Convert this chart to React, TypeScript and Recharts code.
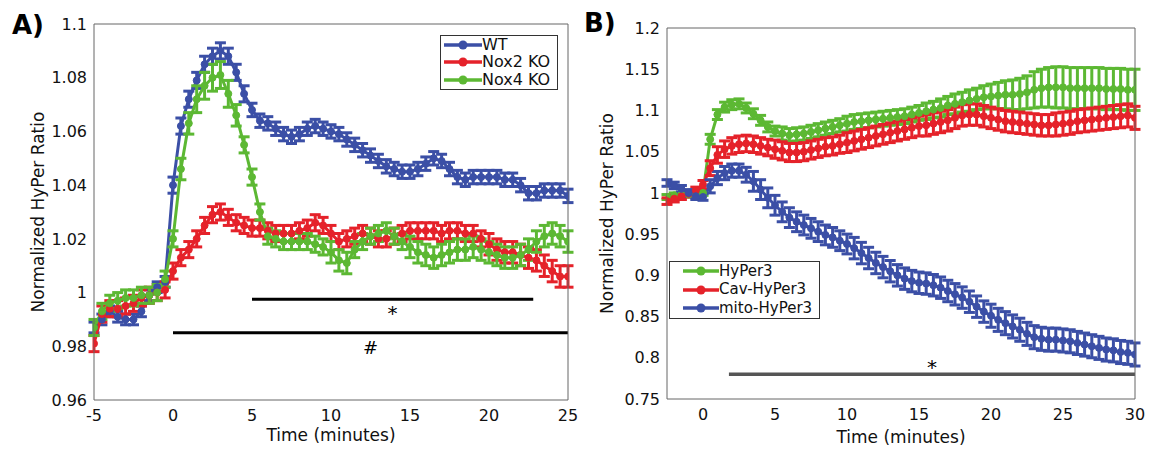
import React from 'react';
import {
  LineChart,
  Line,
  XAxis,
  YAxis,
  ErrorBar,
  ReferenceLine,
  Legend,
  Label,
} from 'recharts';

const FONT = '"DejaVu Sans", Verdana, sans-serif';
const AXIS = '#666666';
const BLUE = '#3b4fa6';
const RED = '#e5222a';
const GREEN = '#5cb833';

// ---- panel A: -5 .. 25 min, every 0.5 min ----
const timeA = [
  -5, -4.5, -4, -3.5, -3, -2.5, -2, -1.5, -1, -0.5,
  0, 0.5, 1, 1.5, 2, 2.5, 3, 3.5, 4, 4.5,
  5, 5.5, 6, 6.5, 7, 7.5, 8, 8.5, 9, 9.5,
  10, 10.5, 11, 11.5, 12, 12.5, 13, 13.5, 14, 14.5,
  15, 15.5, 16, 16.5, 17, 17.5, 18, 18.5, 19, 19.5,
  20, 20.5, 21, 21.5, 22, 22.5, 23, 23.5, 24, 24.5,
  25,
];
const wtA = [
  0.987, 0.990, 0.993, 0.991, 0.990, 0.990, 0.993, 0.999, 1.002, 1.004,
  1.040, 1.062, 1.072, 1.079, 1.085, 1.088, 1.090, 1.088, 1.082, 1.074,
  1.068, 1.064, 1.063, 1.061, 1.059, 1.058, 1.059, 1.061, 1.062, 1.061,
  1.060, 1.059, 1.057, 1.055, 1.053, 1.051, 1.049, 1.047, 1.046, 1.045,
  1.045, 1.046, 1.048, 1.050, 1.049, 1.046, 1.043, 1.042, 1.043, 1.043,
  1.043, 1.043, 1.042, 1.042, 1.040, 1.037, 1.037, 1.038, 1.038, 1.038,
  1.036,
];
const wtErrA = [
  0.002, 0.002, 0.002, 0.002, 0.002, 0.002, 0.002, 0.002, 0.002, 0.002,
  0.003, 0.003, 0.003, 0.003, 0.003, 0.003, 0.003, 0.003, 0.003, 0.003,
  0.0025, 0.0025, 0.0025, 0.0025, 0.0025, 0.0025, 0.0025, 0.0025, 0.0025, 0.0025,
  0.0025, 0.0025, 0.0025, 0.0025, 0.0025, 0.0025, 0.0025, 0.0025, 0.0025, 0.0025,
  0.0025, 0.0025, 0.0025, 0.0025, 0.0025, 0.0025, 0.0025, 0.0025, 0.0025, 0.0025,
  0.0025, 0.0025, 0.0025, 0.0025, 0.0025, 0.0025, 0.0025, 0.0025, 0.0025, 0.0025,
  0.0025,
];
const nox2A = [
  0.981, 0.992, 0.994, 0.994, 0.995, 0.996, 0.998, 0.999, 1.000, 1.001,
  1.008, 1.013, 1.016, 1.020, 1.025, 1.029, 1.030, 1.028, 1.026, 1.025,
  1.024, 1.024, 1.023, 1.022, 1.022, 1.022, 1.023, 1.024, 1.026, 1.025,
  1.022, 1.019, 1.020, 1.021, 1.022, 1.021, 1.020, 1.020, 1.021, 1.022,
  1.023, 1.023, 1.023, 1.023, 1.022, 1.023, 1.023, 1.022, 1.022, 1.020,
  1.018, 1.016, 1.015, 1.015, 1.014, 1.013, 1.012, 1.010, 1.008, 1.006,
  1.006,
];
const nox2ErrA = [
  0.003, 0.003, 0.003, 0.003, 0.003, 0.003, 0.003, 0.003, 0.003, 0.003,
  0.003, 0.003, 0.003, 0.003, 0.003, 0.003, 0.003, 0.003, 0.003, 0.003,
  0.003, 0.003, 0.003, 0.003, 0.003, 0.003, 0.003, 0.003, 0.003, 0.003,
  0.003, 0.003, 0.003, 0.003, 0.003, 0.003, 0.003, 0.003, 0.003, 0.003,
  0.003, 0.003, 0.003, 0.003, 0.003, 0.003, 0.003, 0.003, 0.003, 0.003,
  0.004, 0.004, 0.004, 0.004, 0.004, 0.004, 0.004, 0.004, 0.004, 0.004,
  0.004,
];
const nox4A = [
  0.987, 0.993, 0.996, 0.997, 0.998, 0.998, 0.999, 0.999, 1.000, 1.005,
  1.020, 1.046, 1.063, 1.072, 1.077, 1.080, 1.081, 1.074, 1.066, 1.055,
  1.043, 1.030, 1.021, 1.020, 1.019, 1.019, 1.019, 1.019, 1.018, 1.017,
  1.015, 1.012, 1.011, 1.016, 1.019, 1.021, 1.022, 1.023, 1.021, 1.019,
  1.017, 1.015, 1.014, 1.013, 1.014, 1.015, 1.016, 1.016, 1.017, 1.016,
  1.015, 1.014, 1.013, 1.013, 1.014, 1.016, 1.019, 1.021, 1.022, 1.021,
  1.019,
];
const nox4ErrA = [
  0.003, 0.003, 0.003, 0.003, 0.003, 0.003, 0.003, 0.003, 0.003, 0.003,
  0.003, 0.004, 0.004, 0.005, 0.005, 0.005, 0.005, 0.005, 0.004, 0.003,
  0.003, 0.003, 0.003, 0.003, 0.003, 0.003, 0.003, 0.003, 0.003, 0.003,
  0.004, 0.004, 0.004, 0.003, 0.003, 0.003, 0.003, 0.003, 0.003, 0.003,
  0.004, 0.004, 0.004, 0.004, 0.004, 0.004, 0.004, 0.004, 0.004, 0.004,
  0.004, 0.004, 0.004, 0.004, 0.004, 0.004, 0.004, 0.004, 0.004, 0.004,
  0.004,
];

// ---- panel B: -2.5 .. 30 min, every 0.5 min ----
const timeB = [
  -2.5, -2, -1.5, -1, -0.5, 0,
  0.5, 1, 1.5, 2, 2.5, 3, 3.5, 4, 4.5, 5,
  5.5, 6, 6.5, 7, 7.5, 8, 8.5, 9, 9.5, 10,
  10.5, 11, 11.5, 12, 12.5, 13, 13.5, 14, 14.5, 15,
  15.5, 16, 16.5, 17, 17.5, 18, 18.5, 19, 19.5, 20,
  20.5, 21, 21.5, 22, 22.5, 23, 23.5, 24, 24.5, 25,
  25.5, 26, 26.5, 27, 27.5, 28, 28.5, 29, 29.5, 30,
];
const hyperB = [
  0.995, 0.997, 0.998, 0.998, 0.997, 1.000,
  1.065, 1.095, 1.104, 1.107, 1.108, 1.103, 1.096, 1.088, 1.080, 1.075,
  1.072, 1.070, 1.071, 1.072, 1.074, 1.076, 1.078, 1.080, 1.082, 1.084,
  1.086, 1.087, 1.088, 1.089, 1.090, 1.091, 1.092, 1.093, 1.095, 1.097,
  1.099, 1.101, 1.103, 1.106, 1.108, 1.110, 1.112, 1.114, 1.116, 1.117,
  1.118, 1.119, 1.119, 1.120, 1.122, 1.125, 1.127, 1.128, 1.128, 1.128,
  1.127, 1.127, 1.127, 1.127, 1.127, 1.126, 1.126, 1.126, 1.125, 1.125,
];
const hyperErrB = [
  0.003, 0.003, 0.003, 0.003, 0.003, 0.003,
  0.006, 0.006, 0.006, 0.006, 0.006, 0.006, 0.006, 0.006, 0.006, 0.006,
  0.008, 0.008, 0.008, 0.008, 0.008, 0.008, 0.008, 0.008, 0.008, 0.009,
  0.009, 0.009, 0.009, 0.009, 0.009, 0.009, 0.009, 0.009, 0.009, 0.009,
  0.010, 0.010, 0.011, 0.011, 0.012, 0.012, 0.013, 0.013, 0.014, 0.015,
  0.016, 0.017, 0.018, 0.019, 0.020, 0.022, 0.023, 0.024, 0.025, 0.025,
  0.025, 0.025, 0.025, 0.025, 0.025, 0.025, 0.025, 0.025, 0.025, 0.025,
];
const cavB = [
  0.990, 0.993, 0.996, 0.999, 1.003, 1.010,
  1.030, 1.046, 1.053, 1.057, 1.059, 1.060, 1.059, 1.057, 1.055, 1.053,
  1.051, 1.049, 1.049, 1.050, 1.052, 1.054, 1.056, 1.057, 1.059, 1.061,
  1.063, 1.065, 1.067, 1.069, 1.071, 1.073, 1.075, 1.077, 1.079, 1.081,
  1.082, 1.084, 1.086, 1.088, 1.091, 1.094, 1.095, 1.095, 1.093, 1.091,
  1.089, 1.087, 1.086, 1.085, 1.084, 1.083, 1.082, 1.082, 1.083, 1.084,
  1.085, 1.087, 1.088, 1.089, 1.090, 1.091, 1.092, 1.093, 1.094, 1.091,
];
const cavErrB = [
  0.004, 0.004, 0.004, 0.004, 0.004, 0.005,
  0.009, 0.010, 0.010, 0.010, 0.010, 0.010, 0.010, 0.010, 0.010, 0.011,
  0.011, 0.011, 0.011, 0.011, 0.011, 0.011, 0.011, 0.011, 0.011, 0.012,
  0.012, 0.012, 0.012, 0.012, 0.012, 0.012, 0.012, 0.012, 0.012, 0.012,
  0.013, 0.013, 0.013, 0.013, 0.013, 0.013, 0.013, 0.013, 0.013, 0.013,
  0.013, 0.013, 0.013, 0.013, 0.013, 0.013, 0.013, 0.013, 0.014, 0.014,
  0.014, 0.014, 0.014, 0.014, 0.014, 0.014, 0.014, 0.014, 0.014, 0.014,
];
const mitoB = [
  1.012, 1.009, 1.005, 1.000, 0.996, 0.995,
  1.008, 1.018, 1.024, 1.027, 1.027, 1.022, 1.014, 1.004, 0.994, 0.985,
  0.977, 0.970, 0.965, 0.961, 0.957, 0.953, 0.949, 0.946, 0.942, 0.938,
  0.933, 0.927, 0.921, 0.915, 0.910, 0.905, 0.900, 0.896, 0.893, 0.891,
  0.890, 0.888, 0.885, 0.881, 0.877, 0.873, 0.868, 0.862, 0.856, 0.851,
  0.846, 0.842, 0.838, 0.834, 0.829, 0.825, 0.823, 0.822, 0.822, 0.821,
  0.820, 0.818, 0.816, 0.814, 0.812, 0.810, 0.809, 0.807, 0.806, 0.804,
];
const mitoErrB = [
  0.004, 0.004, 0.004, 0.004, 0.004, 0.004,
  0.008, 0.008, 0.008, 0.008, 0.008, 0.009, 0.012, 0.012, 0.012, 0.012,
  0.012, 0.012, 0.012, 0.012, 0.012, 0.012, 0.012, 0.012, 0.012, 0.012,
  0.013, 0.013, 0.013, 0.013, 0.013, 0.013, 0.013, 0.013, 0.013, 0.013,
  0.013, 0.013, 0.013, 0.013, 0.013, 0.013, 0.013, 0.013, 0.013, 0.014,
  0.014, 0.014, 0.014, 0.014, 0.014, 0.014, 0.014, 0.014, 0.014, 0.014,
  0.014, 0.014, 0.014, 0.014, 0.014, 0.014, 0.014, 0.014, 0.014, 0.014,
];

const xTicksA = [-5, 0, 5, 10, 15, 20, 25];
const yTicksA = [0.96, 0.98, 1, 1.02, 1.04, 1.06, 1.08, 1.1];
const xTicksB = [0, 5, 10, 15, 20, 25, 30];
const yTicksB = [0.75, 0.8, 0.85, 0.9, 0.95, 1, 1.05, 1.1, 1.15, 1.2];

const namesA = ['WT', 'Nox2 KO', 'Nox4 KO'];
const namesB = ['HyPer3', 'Cav-HyPer3', 'mito-HyPer3'];

const dataA = timeA.map((t, i) => ({
  t,
  wt: wtA[i],
  wtErr: wtErrA[i],
  nox2: nox2A[i],
  nox2Err: nox2ErrA[i],
  nox4: nox4A[i],
  nox4Err: nox4ErrA[i],
}));

const dataB = timeB.map((t, i) => ({
  t,
  hyper: hyperB[i],
  hyperErr: hyperErrB[i],
  cav: cavB[i],
  cavErr: cavErrB[i],
  mito: mitoB[i],
  mitoErr: mitoErrB[i],
}));

const fmt = (v: number) => String(Number(v.toFixed(2)));
const tickStyle = { fill: '#111', fontSize: 16, fontFamily: FONT };

const yTitle = (dx: number) => (props: any) => {
  const vb = props.viewBox || {};
  const cx = vb.x + dx;
  const cy = vb.y + vb.height / 2;
  return (
    <text
      x={cx}
      y={cy}
      transform={`rotate(-90, ${cx}, ${cy})`}
      textAnchor="middle"
      dominantBaseline="central"
      fill="#111"
      fontSize={17}
      fontFamily={FONT}
    >
      Normalized HyPer Ratio
    </text>
  );
};

const LegendBox = (props: any) => {
  const { payload, order, rowH, lineW, padLeft, boxW, fontSize } = props;
  const items = [...(payload || [])].sort(
    (a: any, b: any) => order.indexOf(a.value) - order.indexOf(b.value)
  );
  return (
    <div
      style={{
        width: boxW,
        boxSizing: 'border-box',
        border: '1px solid #333',
        background: '#fff',
        padding: `0 2px 0 ${padLeft}px`,
        fontFamily: FONT,
        fontSize,
        color: '#111',
      }}
    >
      {items.map((it: any) => (
        <div key={it.value} style={{ display: 'flex', alignItems: 'center', height: rowH }}>
          <svg width={lineW} height={10} style={{ display: 'block', flex: 'none' }}>
            <line x1={0} y1={5} x2={lineW} y2={5} stroke={it.color} strokeWidth={3.5} />
            <circle cx={lineW / 2} cy={5} r={4.5} fill={it.color} />
          </svg>
          <span style={{ lineHeight: 1, whiteSpace: 'nowrap' }}>{it.value}</span>
        </div>
      ))}
    </div>
  );
};

// inward tick marks + top/right frame, MATLAB style
const frameAxes = (xDomain: number[], xTicks: number[], yDomain: number[], yTicks: number[]) => [
  <XAxis key="xt" xAxisId="top" orientation="top" mirror type="number" domain={xDomain} ticks={xTicks}
    allowDataOverflow tick={false} height={1} tickSize={5} axisLine={{ stroke: AXIS }} tickLine={{ stroke: AXIS }} />,
  <XAxis key="xb" xAxisId="bot" orientation="bottom" mirror type="number" domain={xDomain} ticks={xTicks}
    allowDataOverflow tick={false} height={1} tickSize={5} axisLine={false} tickLine={{ stroke: AXIS }} />,
  <YAxis key="yl" yAxisId="lft" orientation="left" mirror type="number" domain={yDomain} ticks={yTicks}
    allowDataOverflow tick={false} width={1} tickSize={5} axisLine={false} tickLine={{ stroke: AXIS }} />,
  <YAxis key="yr" yAxisId="rgt" orientation="right" mirror type="number" domain={yDomain} ticks={yTicks}
    allowDataOverflow tick={false} width={1} tickSize={5} axisLine={{ stroke: AXIS }} tickLine={{ stroke: AXIS }} />,
];

const series = (key: string, name: string, color: string) => (
  <Line
    key={key}
    type="linear"
    dataKey={key}
    name={name}
    stroke={color}
    strokeWidth={3}
    dot={{ r: 3.5, fill: color, stroke: color, strokeWidth: 1 }}
    activeDot={false}
    isAnimationActive={false}
  >
    <ErrorBar dataKey={`${key}Err`} width={5.5} strokeWidth={3} stroke={color} isAnimationActive={false} />
  </Line>
);

const panelLabel = (text: string, left: number, top: number) => (
  <div
    style={{
      position: 'absolute',
      left,
      top,
      fontFamily: FONT,
      fontWeight: 'bold',
      fontSize: 26,
      lineHeight: '26px',
      color: '#000',
    }}
  >
    {text}
  </div>
);

const App: React.FC = () => {
  return (
    <div style={{ position: 'absolute', left: 0, top: 0, width: 1155, height: 450, background: '#fff' }}>
      {panelLabel('A)', 12, 12)}
      {panelLabel('B)', 584, 10)}

      <div style={{ position: 'absolute', left: 0, top: 0 }}>
        <LineChart width={580} height={450} data={dataA} margin={{ top: 24, right: 12, bottom: 0, left: 0 }}>
          <XAxis
            dataKey="t"
            type="number"
            domain={[-5, 25]}
            ticks={xTicksA}
            allowDataOverflow
            height={50}
            tickLine={false}
            tickSize={6}
            tickMargin={4}
            axisLine={{ stroke: AXIS }}
            tick={tickStyle}
            tickFormatter={fmt}
            label={{ value: 'Time (minutes)', position: 'insideBottom', offset: 9, fill: '#111', fontSize: 17, fontFamily: FONT }}
          />
          <YAxis
            type="number"
            domain={[0.96, 1.1]}
            ticks={yTicksA}
            allowDataOverflow
            width={94}
            tickLine={false}
            tickSize={4}
            tickMargin={3}
            axisLine={{ stroke: AXIS }}
            tick={tickStyle}
            tickFormatter={fmt}
            label={<Label content={yTitle(38)} />}
          />
          {frameAxes([-5, 25], xTicksA, [0.96, 1.1], yTicksA)}
          <ReferenceLine
            segment={[{ x: 5, y: 0.9975 }, { x: 22.8, y: 0.9975 }]}
            stroke="#000"
            strokeWidth={3}
            label={{ value: '*', position: 'bottom', offset: 7, fill: '#000', fontSize: 20, fontFamily: FONT }}
          />
          <ReferenceLine
            segment={[{ x: 0, y: 0.985 }, { x: 25, y: 0.985 }]}
            stroke="#000"
            strokeWidth={3}
            label={{ value: '#', position: 'bottom', offset: 8, fill: '#000', fontSize: 18, fontFamily: FONT }}
          />
          {series('wt', 'WT', BLUE)}
          {series('nox2', 'Nox2 KO', RED)}
          {series('nox4', 'Nox4 KO', GREEN)}
          <Legend
            layout="vertical"
            align="center"
            verticalAlign="middle"
            wrapperStyle={{ left: 440, top: 35 }}
            content={(p: any) => (
              <LegendBox {...p} order={namesA} rowH={17.5} lineW={38} padLeft={3} boxW={118} fontSize={16} />
            )}
          />
        </LineChart>
      </div>

      <div style={{ position: 'absolute', left: 580, top: 0 }}>
        <LineChart width={575} height={450} data={dataB} margin={{ top: 28, right: 20, bottom: 0, left: 0 }}>
          <XAxis
            dataKey="t"
            type="number"
            domain={[-2.5, 30]}
            ticks={xTicksB}
            allowDataOverflow
            height={51}
            tickLine={false}
            tickSize={6}
            tickMargin={4}
            axisLine={{ stroke: AXIS }}
            tick={tickStyle}
            tickFormatter={fmt}
            label={{ value: 'Time (minutes)', position: 'insideBottom', offset: 7, fill: '#111', fontSize: 17, fontFamily: FONT }}
          />
          <YAxis
            type="number"
            domain={[0.75, 1.2]}
            ticks={yTicksB}
            allowDataOverflow
            width={87}
            tickLine={false}
            tickSize={4}
            tickMargin={3}
            axisLine={{ stroke: AXIS }}
            tick={tickStyle}
            tickFormatter={fmt}
            label={<Label content={yTitle(27)} />}
          />
          {frameAxes([-2.5, 30], xTicksB, [0.75, 1.2], yTicksB)}
          <ReferenceLine
            segment={[{ x: 1.8, y: 0.78 }, { x: 30, y: 0.78 }]}
            stroke="#555"
            strokeWidth={3.5}
            label={{ value: '*', position: 'top', offset: 0, fill: '#000', fontSize: 20, fontFamily: FONT }}
          />
          {series('hyper', 'HyPer3', GREEN)}
          {series('cav', 'Cav-HyPer3', RED)}
          {series('mito', 'mito-HyPer3', BLUE)}
          <Legend
            layout="vertical"
            align="center"
            verticalAlign="middle"
            wrapperStyle={{ left: 89, top: 261 }}
            content={(p: any) => (
              <LegendBox {...p} order={namesB} rowH={18.5} lineW={36} padLeft={13} boxW={151} fontSize={15} />
            )}
          />
        </LineChart>
      </div>
    </div>
  );
};

export default App;
